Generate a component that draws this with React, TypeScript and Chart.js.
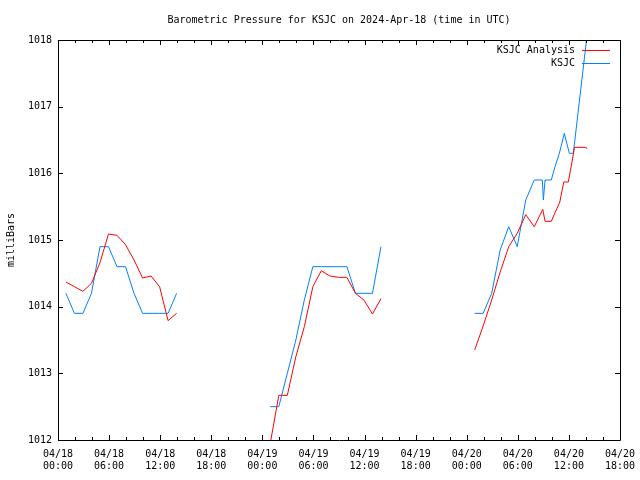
import { useEffect, useRef } from "react";
import { Chart, registerables } from "chart.js";

Chart.register(...registerables);

const FONT_FAMILY = '"DejaVu Sans Mono", "Liberation Mono", monospace';
const TITLE = "Barometric Pressure for KSJC on 2024-Apr-18 (time in UTC)";
const Y_LABEL = "milliBars";

// x axis: hours since 2024-04-18 00:00 UTC
const X_MIN = 0;
const X_MAX = 66;
const X_MAJOR_STEP = 6;
const X_MINOR_STEP = 2;
const X_TICK_DAYS = ["04/18", "04/18", "04/18", "04/18", "04/19", "04/19", "04/19", "04/19", "04/20", "04/20", "04/20", "04/20"];
const X_TICK_TIMES = ["00:00", "06:00", "12:00", "18:00", "00:00", "06:00", "12:00", "18:00", "00:00", "06:00", "12:00", "18:00"];

const Y_MIN = 1012;
const Y_MAX = 1018;
const Y_STEP = 1;

// KSJC Analysis (red)
const ANALYSIS_LABEL = "KSJC Analysis";
const analysisHours = [
  0.93, 1.93, 2.93, 3.93, 4.93, 5.93, 6.93, 7.93, 8.93, 9.93, 10.93, 11.93, 12.93, 13.93,
  19,
  24.93, 25.93, 26.93, 27.93, 28.93, 29.93, 30.93, 31.93, 32.93, 33.93, 34.93, 35.93, 36.93, 37.93,
  43,
  48.93, 49.93, 50.93, 51.93, 52.93, 53.93, 54.93, 55.93, 56.93, 57.2, 57.93, 58.93, 59.4, 59.93, 60.4, 60.65, 61.93, 62.16,
];
const analysisValues = [
  1014.37, 1014.3, 1014.23, 1014.35, 1014.66, 1015.09, 1015.07, 1014.93, 1014.7, 1014.43, 1014.46, 1014.3, 1013.79, 1013.9,
  null,
  1011.95, 1012.67, 1012.67, 1013.25, 1013.7, 1014.3, 1014.54, 1014.46, 1014.44, 1014.44, 1014.2, 1014.1, 1013.89, 1014.12,
  null,
  1013.35, 1013.71, 1014.1, 1014.52, 1014.9, 1015.1, 1015.38, 1015.2, 1015.46, 1015.28, 1015.28, 1015.57, 1015.87, 1015.87, 1016.2, 1016.39, 1016.39, 1016.37,
];

// KSJC observations (blue)
const OBS_LABEL = "KSJC";
const obsHours = [
  0.93, 1.93, 2.93, 3.93, 4.93, 5.93, 6.93, 7.93, 8.93, 9.93, 10.93, 11.93, 12.93, 13.93,
  19,
  24.93, 25.93, 26.93, 27.93, 28.93, 29.93, 30.93, 31.93, 32.93, 33.93, 34.93, 35.93, 36.93, 37.93,
  43,
  48.93, 49.93, 50.93, 51.93, 52.93, 53.93, 54.93, 55.93, 56.88, 57.0, 57.2, 57.93, 58.37, 58.88, 59.46, 60.05, 60.52, 62.2,
];
const obsValues = [
  1014.2, 1013.9, 1013.9, 1014.2, 1014.9, 1014.9, 1014.6, 1014.6, 1014.2, 1013.9, 1013.9, 1013.9, 1013.9, 1014.2,
  null,
  1012.5, 1012.5, 1013.0, 1013.5, 1014.1, 1014.6, 1014.6, 1014.6, 1014.6, 1014.6, 1014.2, 1014.2, 1014.2, 1014.9,
  null,
  1013.9, 1013.9, 1014.2, 1014.85, 1015.2, 1014.9, 1015.6, 1015.9, 1015.9, 1015.6, 1015.9, 1015.9, 1016.1, 1016.3, 1016.6, 1016.3, 1016.3, 1018.15,
];

const ANALYSIS_COLOR = "#ff0000";
const OBS_COLOR = "#0080ff";

const toPoints = (xs: number[], ys: (number | null)[]) => xs.map((x, i) => ({ x, y: ys[i] }));

const gnuplotFrame = {
  id: "gnuplotFrame",
  afterDraw(chart: any) {
    const { ctx, chartArea } = chart;
    const { left, right, top, bottom } = chartArea;
    const xs = chart.scales.x;
    const ys = chart.scales.y;
    ctx.save();
    ctx.strokeStyle = "#000";
    ctx.lineWidth = 1;
    ctx.beginPath();
    ctx.rect(Math.round(left) + 0.5, Math.round(top) + 0.5, Math.round(right - left), Math.round(bottom - top));
    for (let v = X_MIN; v <= X_MAX + 1e-9; v += X_MINOR_STEP) {
      const px = Math.round(xs.getPixelForValue(v)) + 0.5;
      const len = Math.abs(v % X_MAJOR_STEP) < 1e-9 ? 5 : 3;
      ctx.moveTo(px, bottom);
      ctx.lineTo(px, bottom - len);
      ctx.moveTo(px, top);
      ctx.lineTo(px, top + len);
    }
    for (let v = Y_MIN; v <= Y_MAX + 1e-9; v += Y_STEP) {
      const py = Math.round(ys.getPixelForValue(v)) + 0.5;
      ctx.moveTo(left, py);
      ctx.lineTo(left + 5, py);
      ctx.moveTo(right, py);
      ctx.lineTo(right - 5, py);
    }
    ctx.stroke();

    ctx.fillStyle = "#000";
    ctx.font = `10px ${FONT_FAMILY}`;
    ctx.textBaseline = "middle";
    ctx.textAlign = "center";
    ctx.fillText(TITLE, (left + right) / 2, 20);
    ctx.save();
    ctx.translate(11, (top + bottom) / 2);
    ctx.rotate(-Math.PI / 2);
    ctx.fillText(Y_LABEL, 0, 0);
    ctx.restore();
    chart.data.datasets.forEach((ds: any, i: number) => {
      const y = 50 + i * 13;
      ctx.textAlign = "right";
      ctx.fillStyle = "#000";
      ctx.fillText(ds.label, 575, y);
      ctx.strokeStyle = ds.borderColor;
      ctx.beginPath();
      ctx.moveTo(582, y + 0.5);
      ctx.lineTo(610, y + 0.5);
      ctx.stroke();
    });
    ctx.restore();
  },
};

export default function App() {
  const canvasRef = useRef<HTMLCanvasElement | null>(null);

  useEffect(() => {
    const canvas = canvasRef.current;
    if (!canvas) return;
    const font = { family: FONT_FAMILY, size: 10, lineHeight: 1.25 };
    const chart = new Chart(canvas, {
      type: "line",
      data: {
        datasets: [
          {
            label: ANALYSIS_LABEL,
            data: toPoints(analysisHours, analysisValues),
            borderColor: ANALYSIS_COLOR,
            backgroundColor: ANALYSIS_COLOR,
            borderWidth: 1,
            pointRadius: 0,
            tension: 0,
            spanGaps: false,
          },
          {
            label: OBS_LABEL,
            data: toPoints(obsHours, obsValues),
            borderColor: OBS_COLOR,
            backgroundColor: OBS_COLOR,
            borderWidth: 1,
            pointRadius: 0,
            tension: 0,
            spanGaps: false,
          },
        ],
      },
      plugins: [gnuplotFrame],
      options: {
        animation: false,
        responsive: false,
        layout: { padding: { left: 0, right: 20, top: 40, bottom: 0 } },
        plugins: {
          legend: { display: false },
          title: { display: false },
          tooltip: { enabled: false },
        },
        scales: {
          x: {
            type: "linear",
            min: X_MIN,
            max: X_MAX,
            grid: { display: false, drawTicks: false },
            border: { display: false },
            ticks: {
              stepSize: X_MAJOR_STEP,
              autoSkip: false,
              maxRotation: 0,
              minRotation: 0,
              padding: 8,
              color: "#000",
              font,
              callback: (v: any) => {
                const i = Math.round(Number(v) / X_MAJOR_STEP);
                return [X_TICK_DAYS[i] ?? "", X_TICK_TIMES[i] ?? ""];
              },
            },
            afterFit: (s: any) => {
              s.height = 40;
              s.paddingLeft = 0;
              s.paddingRight = 0;
            },
          },
          y: {
            type: "linear",
            min: Y_MIN,
            max: Y_MAX,
            grid: { display: false, drawTicks: false },
            border: { display: false },
            ticks: {
              stepSize: Y_STEP,
              padding: 6,
              color: "#000",
              font: { family: FONT_FAMILY, size: 10 },
              callback: (v: any) => String(v),
            },
            afterFit: (s: any) => {
              s.width = 58;
              s.paddingTop = 0;
              s.paddingBottom = 0;
            },
          },
        },
      },
    });
    return () => chart.destroy();
  }, []);

  return (
    <div style={{ position: "fixed", left: 0, top: 0, width: 640, height: 480, background: "#fff" }}>
      <canvas ref={canvasRef} width={640} height={480} style={{ width: 640, height: 480, display: "block" }} />
    </div>
  );
}
